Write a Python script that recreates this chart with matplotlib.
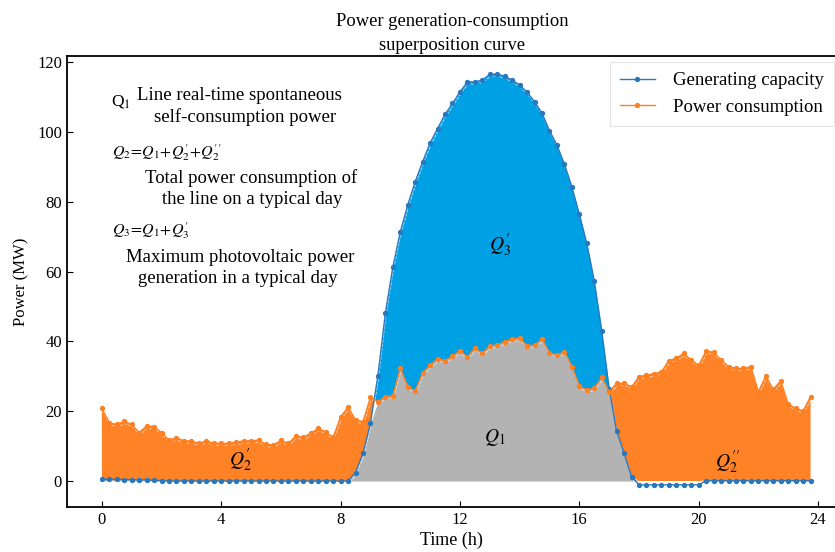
import numpy as np
import matplotlib
matplotlib.use('Agg')
import matplotlib.pyplot as plt
import matplotlib.transforms as mtransforms

plt.rcParams['font.family'] = ['Liberation Serif', 'DejaVu Serif']
plt.rcParams['mathtext.fontset'] = 'stix'

# time of day, 15 min steps
hours = np.arange(96) * 0.25

# generating capacity (MW)
generation = [0.5, 0.5, 0.5, 0.4, 0.4, 0.3, 0.3, 0.2, 0.1, 0.0,
              0.0, 0.0, 0.0, 0.0, 0.0, 0.0, 0.0, 0.0, 0.0, 0.0,
              0.0, 0.0, 0.0, 0.0, 0.0, 0.0, 0.0, 0.0, 0.0, 0.0,
              0.0, 0.0, 0.0, 0.0, 2.4, 7.9, 16.5, 30.2, 48.1, 61.3,
              71.4, 79.1, 85.8, 91.5, 96.9, 101.0, 105.1, 108.2, 111.5, 114.4,
              114.4, 114.9, 116.6, 116.6, 116.0, 114.9, 113.5, 111.4, 108.7, 105.4,
              100.4, 96.3, 90.8, 84.3, 76.5, 68.1, 57.4, 43.1, 26.5, 14.3,
              8.0, 1.2, -1.1, -1.1, -1.1, -1.1, -1.1, -1.1, -1.1, -1.1,
              -1.1, 0.1, 0.1, 0.1, 0.1, 0.1, 0.1, 0.1, 0.1, 0.1,
              0.1, 0.1, 0.1, 0.1, 0.1, 0.1]

# power consumption (MW)
consumption = [20.8, 16.7, 16.2, 17.1, 16.2, 13.9, 15.8, 15.6, 13.9, 11.7,
               12.4, 11.5, 11.5, 10.8, 11.5, 10.8, 10.8, 10.8, 11.1, 11.5,
               11.5, 11.7, 10.5, 10.3, 11.7, 10.8, 12.9, 12.5, 13.7, 15.1,
               14.1, 12.5, 18.4, 21.2, 17.5, 17.0, 24.0, 22.7, 24.2, 24.4,
               32.3, 27.0, 25.8, 31.0, 33.2, 35.0, 34.5, 35.8, 37.3, 35.6,
               38.0, 36.6, 38.7, 39.0, 39.9, 40.6, 40.9, 38.7, 39.0, 40.6,
               36.8, 36.1, 37.1, 32.8, 27.2, 26.1, 26.6, 29.7, 25.6, 28.0,
               28.0, 27.0, 29.9, 30.4, 30.7, 31.3, 34.5, 35.2, 36.6, 34.7,
               33.2, 37.3, 36.9, 34.7, 32.8, 32.3, 32.3, 32.8, 25.6, 30.1,
               26.3, 28.7, 22.1, 20.8, 20.1, 24.2]

gen = np.array(generation)
con = np.array(consumption)
gen0 = np.clip(gen, 0, None)

fig = plt.figure(figsize=(8.35, 5.52), dpi=100)
ax = fig.add_axes([0.0802, 0.0815, 0.922, 0.817])

ax.fill_between(hours, 0, np.minimum(gen0, con), color='#b3b3b3', lw=0)
ax.fill_between(hours, con, gen0, where=gen0 >= con, interpolate=True,
                color='#00a0e4', lw=0)
ax.fill_between(hours, gen0, con, where=con >= gen0, interpolate=True,
                color='#ff8227', lw=0)

# thin white dashed edge just under each curve
shift = mtransforms.offset_copy(ax.transData, fig=fig, x=0.5, y=-1.6, units='points')
ax.plot(hours, gen, color='white', lw=0.6, ls='--', alpha=0.7, transform=shift)
ax.plot(hours, con, color='white', lw=0.6, ls='--', alpha=0.7, transform=shift)

ax.plot(hours, gen, color='#2878c0', lw=1.0, marker='o', ms=2.8,
        label='Generating capacity')
ax.plot(hours, con, color='#ff8020', lw=1.0, marker='o', ms=2.8,
        label='Power consumption')

ax.set_xlim(-1.17, 24.63)
ax.set_ylim(-7.45, 121.8)
ax.set_xticks(np.arange(0, 25, 4))
ax.set_yticks(np.arange(0, 121, 20))
ax.tick_params(direction='in', length=4, labelsize=12)
for s in ax.spines.values():
    s.set_linewidth(1.3)

ax.set_xlabel('Time (h)', fontsize=13, labelpad=3)
ax.set_ylabel('Power (MW)', fontsize=12, labelpad=6)
ax.set_title('Power generation-consumption\nsuperposition curve', fontsize=13.3,
             linespacing=1.6, pad=4)

leg = ax.legend(loc='upper right', fontsize=13.5, frameon=True, fancybox=False,
                edgecolor='#dddddd', borderpad=0.55, handlelength=1.85,
                handletextpad=0.95, labelspacing=0.5,
                borderaxespad=0, bbox_to_anchor=(0.996, 0.987))
leg.get_frame().set_linewidth(0.8)

tkw = dict(fontsize=13.5)
ax.text(0.3, 108.8, r'Q$_{\rm 1}$', ha='left', va='center', fontsize=12.5)
ax.text(4.6, 110.6, 'Line real-time spontaneous', ha='center', va='center', **tkw)
ax.text(4.8, 104.3, 'self-consumption power', ha='center', va='center', **tkw)
ax.text(0.34, 94.0, r"$Q_2\!=\!Q_1\!+\!Q^{\prime}_2\!+\!Q^{\prime\prime}_2$",
        ha='left', va='center', fontsize=11.5)
ax.text(5.0, 86.8, 'Total power consumption of', ha='center', va='center', **tkw)
ax.text(5.03, 80.8, 'the line on a typical day', ha='center', va='center', **tkw)
ax.text(0.34, 71.9, r"$Q_3\!=\!Q_1\!+\!Q^{\prime}_3$", ha='left', va='center',
        fontsize=11.5)
ax.text(4.63, 64.2, 'Maximum photovoltaic power', ha='center', va='center', **tkw)
ax.text(4.56, 57.9, 'generation in a typical day', ha='center', va='center', **tkw)

ax.text(13.35, 67.5, r"$Q^{\prime}_3$", ha='center', va='center', fontsize=14)
ax.text(13.15, 12.5, r"$Q_1$", ha='center', va='center', fontsize=14)
ax.text(4.65, 6.0, r"$Q^{\prime}_2$", ha='center', va='center', fontsize=14)
ax.text(20.95, 5.5, r"$Q^{\prime\prime}_2$", ha='center', va='center', fontsize=14)

fig.savefig('out.png', dpi=100)
